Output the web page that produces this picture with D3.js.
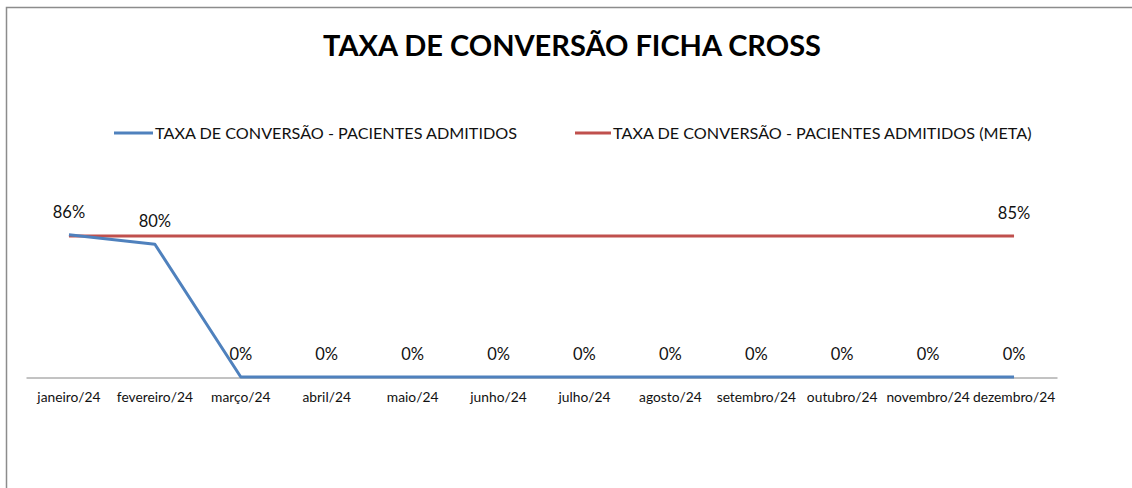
<!DOCTYPE html>
<html><head><meta charset="utf-8">
<script src="https://cdn.jsdelivr.net/npm/d3@7"></script>
<style>body{margin:0;background:#fff}svg{display:block}text{font-family:Lato,"Open Sans",sans-serif}</style>
</head><body>
<script>
const months = ["janeiro/24","fevereiro/24","março/24","abril/24","maio/24","junho/24","julho/24","agosto/24","setembro/24","outubro/24","novembro/24","dezembro/24"];
const taxa = [0.857,0.80,0,0,0,0,0,0,0,0,0,0];
const meta = [0.85,0.85,0.85,0.85,0.85,0.85,0.85,0.85,0.85,0.85,0.85,0.85];
const seriesNames = ["TAXA DE CONVERSÃO - PACIENTES ADMITIDOS","TAXA DE CONVERSÃO - PACIENTES ADMITIDOS (META)"];
const title = "TAXA DE CONVERSÃO FICHA CROSS";

const W=1132,H=488;
const svg=d3.select("body").append("svg").attr("width",W).attr("height",H);
svg.append("path").attr("d","M6.5,488V7.5H1132").attr("fill","none").attr("stroke","#8c8c8c").attr("stroke-width",1.5);

const x=d3.scaleBand().domain(months).range([26,1057]);
const y=d3.scaleLinear().domain([0,1]).range([377,211]);
const cx=d=>x(d)+x.bandwidth()/2;

svg.append("text").attr("x",572).attr("y",56).attr("text-anchor","middle").attr("font-size",29).attr("font-weight",700).attr("fill","#000").text(title);

// legend
const leg=[{n:seriesNames[0],c:"#4F81BD",x1:114,x2:153},{n:seriesNames[1],c:"#C0504D",x1:575,x2:611}];
leg.forEach(l=>{
  svg.append("line").attr("x1",l.x1).attr("x2",l.x2).attr("y1",133).attr("y2",133).attr("stroke",l.c).attr("stroke-width",3);
  svg.append("text").attr("x",l.x2+2).attr("y",138.5).attr("font-size",16.2).attr("fill","#111").text(l.n);
});

// axis
const ax=svg.append("g").attr("transform","translate(0,377.5)").call(d3.axisBottom(x).tickSize(0).tickPadding(15));
ax.select(".domain").attr("stroke","#868686");
ax.selectAll("text").attr("font-size",13.8).attr("fill","#111").style("font-family","Lato,'Open Sans',sans-serif");

const line=d3.line().x((d,i)=>cx(months[i])).y(d=>y(d));
svg.append("path").datum(meta).attr("d",line).attr("fill","none").attr("stroke","#C0504D").attr("stroke-width",3);
svg.append("path").datum(taxa).attr("d",line).attr("fill","none").attr("stroke","#4F81BD").attr("stroke-width",3).attr("stroke-linejoin","round");

const fmt=d3.format(".0%");
svg.selectAll(".lb").data(taxa).enter().append("text").attr("x",(d,i)=>cx(months[i])).attr("y",d=>y(d)-17).attr("text-anchor","middle").attr("font-size",16.5).attr("fill","#111").text(d=>fmt(d));
svg.append("text").attr("x",cx(months[11])).attr("y",y(meta[11])-17).attr("text-anchor","middle").attr("font-size",16.5).attr("fill","#111").text(fmt(meta[11]));
</script>
</body></html>
